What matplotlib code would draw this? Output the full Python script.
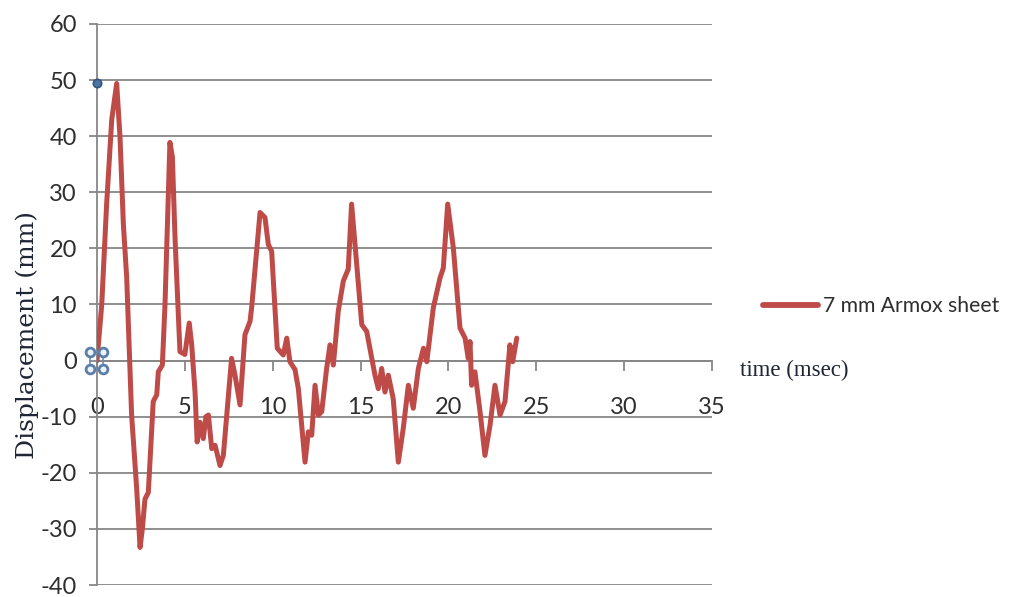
import matplotlib
matplotlib.use("Agg")
import matplotlib.pyplot as plt

# displacement history of the plate centre (time in ms, displacement in mm)
time_ms = [0.0, 0.27, 0.55, 0.84, 1.12, 1.31, 1.5, 1.69, 1.97, 2.26, 2.45,
           2.58, 2.73, 2.92, 3.2, 3.4, 3.49, 3.72, 3.87, 4.15, 4.29, 4.44,
           4.72, 5.0, 5.25, 5.39, 5.58, 5.7, 5.86, 6.05, 6.2, 6.34, 6.53,
           6.72, 7.0, 7.19, 7.66, 7.85, 8.14, 8.42, 8.71, 8.8, 9.28, 9.56,
           9.75, 9.94, 10.26, 10.6, 10.8, 10.98, 11.27, 11.46, 11.84, 12.03,
           12.22, 12.41, 12.6, 12.79, 13.07, 13.26, 13.45, 13.73, 14.02,
           14.3, 14.49, 14.78, 15.07, 15.35, 15.82, 16.01, 16.2, 16.39,
           16.58, 16.86, 17.15, 17.43, 17.72, 18.0, 18.29, 18.58, 18.77,
           19.14, 19.52, 19.71, 19.96, 20.28, 20.66, 20.95, 21.13, 21.23,
           21.32, 21.51, 21.8, 22.08, 22.37, 22.65, 22.94, 23.22, 23.5,
           23.66, 23.89]
displacement = [0.0, 10.0, 28.0, 43.0, 49.4, 39.8, 24.3, 14.8, -9.7, -22.9,
                -33.3, -30.0, -24.7, -23.5, -7.3, -6.1, -2.0, -0.8, 10.0,
                38.9, 36.3, 21.9, 1.6, 1.1, 6.7, 2.8, -5.6, -14.5, -11.0,
                -13.9, -10.0, -9.7, -15.7, -15.1, -18.7, -16.9, 0.4, -2.5,
                -7.9, 4.6, 7.0, 9.4, 26.4, 25.5, 20.7, 19.5, 2.2, 1.0, 4.0,
                -0.2, -1.6, -5.0, -18.1, -12.7, -13.3, -4.4, -9.7, -9.1,
                -1.4, 2.8, -0.8, 8.8, 14.2, 16.3, 27.9, 17.2, 6.4, 5.2,
                -2.6, -5.0, -1.4, -5.6, -2.6, -6.8, -18.1, -12.1, -4.4,
                -8.5, -1.4, 2.2, -0.2, 9.4, 14.7, 16.5, 27.9, 20.1, 5.8,
                4.0, 0.4, 3.4, -4.4, -2.0, -9.1, -16.9, -11.5, -4.4, -9.7,
                -7.3, 2.8, -0.2, 4.0]

x_ticks = [0, 5, 10, 15, 20, 25, 30, 35]
y_ticks = [-40, -30, -20, -10, 0, 10, 20, 30, 40, 50, 60]

# little selection handles left on the chart
handle_t = [-0.4, 0.32, -0.4, 0.32]
handle_y = [1.5, 1.5, -1.5, -1.5]
point_t = [0.0]
point_y = [49.5]

series_label = "7 mm Armox sheet"
red = "#be4b48"
grey = "#878787"
plt.rcParams["font.family"] = ["Lato", "DejaVu Sans"]
plt.rcParams["axes.unicode_minus"] = False

fig = plt.figure(figsize=(10.2, 5.97), dpi=100)
ax = fig.add_axes([0.0951, 0.0201, 0.6029, 0.9397])

ax.plot(time_ms, displacement, color=red, lw=3.6, solid_joinstyle="round",
        solid_capstyle="round", label=series_label, zorder=3)

# handles
ax.plot([handle_t[0], handle_t[1], handle_t[3], handle_t[2], handle_t[0]],
        [handle_y[0], handle_y[1], handle_y[3], handle_y[2], handle_y[0]],
        color="#6f8fb5", lw=1.2, clip_on=False, zorder=4)
ax.scatter(handle_t, handle_y, s=40, facecolor="#eef3f9", edgecolor="#5b7fa8",
           linewidths=2.0, clip_on=False, zorder=5)
ax.scatter(point_t, point_y, s=36, facecolor="#4f74a0", edgecolor="#2f5683",
           linewidths=1.2, clip_on=False, zorder=5)

ax.set_xlim(0, 35)
ax.set_ylim(-40, 60)
ax.set_xticks(x_ticks)
ax.set_yticks(y_ticks)

ax.spines["top"].set_visible(False)
ax.spines["right"].set_visible(False)
ax.spines["left"].set_color(grey)
ax.spines["left"].set_linewidth(1.3)
ax.spines["bottom"].set_position(("data", 0))
ax.spines["bottom"].set_color(grey)
ax.spines["bottom"].set_linewidth(1.3)

ax.yaxis.grid(True, color=grey, lw=1.3)
ax.set_axisbelow(True)

ax.tick_params(axis="y", direction="out", length=6, width=1.3, color=grey,
               pad=8.5, labelsize=17, labelcolor="#2e2e2e")
ax.tick_params(axis="x", direction="out", length=7.5, width=1.3, color=grey,
               pad=19, labelsize=17, labelcolor="#2e2e2e")

ax.set_ylabel("Displacement (mm)", family="DejaVu Serif", fontsize=18,
              color="#1f2535")
ax.yaxis.set_label_coords(-0.095, 0.446)

fig.text(740 / 1020, 1 - 370 / 597, "time (msec)", family="Liberation Serif",
         fontsize=16.5, color="#1f2535", ha="left", va="center")

fig.legend(loc="center left", bbox_to_anchor=(763 / 1020, 1 - 306 / 597),
           frameon=False, borderpad=0, borderaxespad=0, handlelength=2.6,
           handletextpad=0.22, prop={"size": 15.2}, labelcolor="#2e2e2e")
for h in fig.legends[0].get_lines():
    h.set_linewidth(4.2)

fig.savefig("out.png", dpi=100)
